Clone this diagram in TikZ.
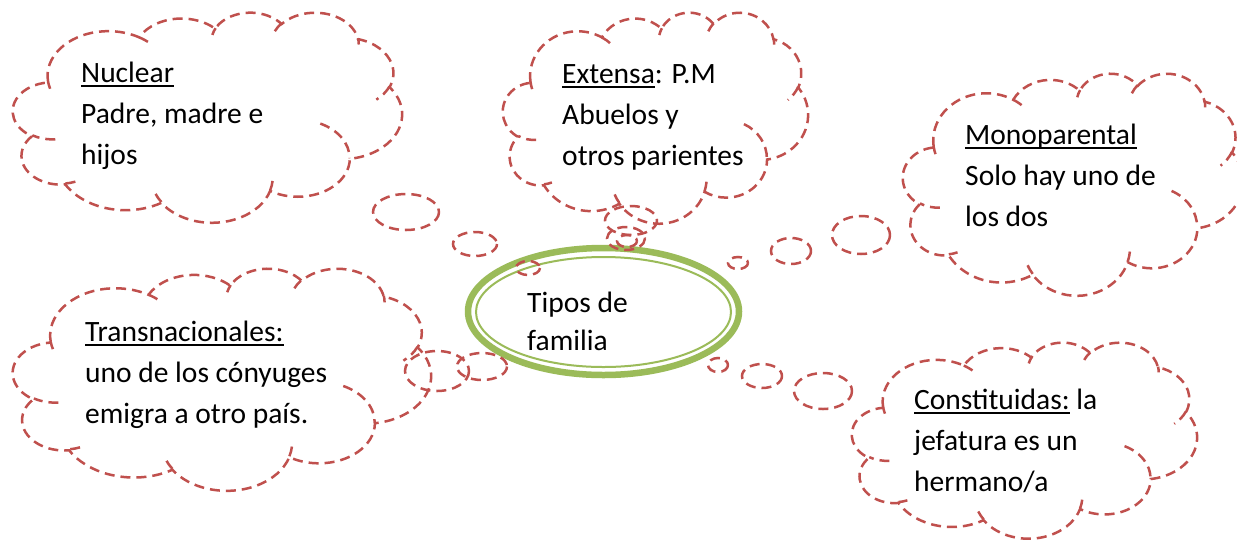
\documentclass[tikz,border=0pt]{standalone}
\usepackage{fontspec}
\setmainfont{Carlito}
\definecolor{cloudred}{RGB}{192,80,77}
\definecolor{ovalgreen}{RGB}{155,187,89}
\newcommand\myul[1]{\setbox0\hbox{#1}\rlap{\rule[-5pt]{\wd0}{1.8pt}}\box0\relax}
\newcommand\carc[4]{arc[start angle={atan2((#1)*sin(#3),(#2)*cos(#3))}, delta angle={Mod(atan2((#1)*sin(#3+#4),(#2)*cos(#3+#4))-atan2((#1)*sin(#3),(#2)*cos(#3)),360)}, x radius=#1, y radius=#2]}
\newcommand\wcloud[4]{%
\begin{scope}[shift={(#1,#2)},xscale=#3/432,yscale=#4/432]
\draw[cloudline] (39.00,143.70) \carc{67.53}{91.90}{-190.48748}{123.78053} \carc{53.33}{72.67}{-144.10238}{89.94523} \carc{43.65}{59.45}{-145.80792}{99.72302} \carc{48.57}{65.95}{-130.98607}{117.24173} \carc{53.33}{72.73}{-78.70888}{109.02692} \carc{67.75}{92.20}{-46.26725}{130.269} \carc{57.85}{78.67}{0.62502}{114.03333} \carc{67.52}{92.15}{22.4516}{115.17255} \carc{77.20}{105.43}{66.24263}{75.71102} \carc{43.60}{59.18}{-274.94208}{146.73557} \carc{43.45}{59.45}{-246.8285}{152.51885} -- cycle;
\draw[cloudline] (46.93,261.77) \carc{43.45}{59.45}{86.742}{26.4295}
 (69.28,348.99) \carc{43.60}{59.18}{73.61047}{11.44747}
 (164.78,390.90) \carc{67.52}{92.15}{137.62415}{14.0811}
 (288.27,347.51) \carc{67.52}{92.15}{6.45327}{15.99835}
 (341.29,229.54) \carc{57.85}{78.67}{-70.29235}{70.91737}
 (417.98,153.54) \carc{53.33}{72.73}{30.31803}{27.7515}
 (383.24,54.26) \carc{48.57}{65.95}{-13.74433}{14.8589}
 (290.78,39.52) \carc{48.57}{65.95}{-149.18145}{18.19537}
 (221.41,47.20) \carc{43.65}{59.45}{-163.49427}{17.68635}
 (140.00,51.92) \carc{67.53}{91.90}{-66.70695}{12.31935}
 (41.27,157.89) \carc{67.53}{91.90}{157.65435}{11.85817};
\end{scope}}
\tikzset{
  cloudline/.style={draw=cloudred, line width=2.5pt, dash pattern=on 10pt off 6pt},
  txt/.style={anchor=base west, inner sep=0pt, font=\fontsize{29.5}{41}\selectfont, text=black},
}
\begin{document}
\begin{tikzpicture}[x=1pt,y=-1pt]
\useasboundingbox (0,0) rectangle (1237,539);
\fill[white] (0,0) rectangle (1237,539);
% central oval
\draw[ovalgreen, line width=6.5pt] (603.5,311.5) ellipse [x radius=135.5, y radius=63.5];
\draw[ovalgreen, line width=2pt] (603.5,312) ellipse [x radius=127.5, y radius=55];
% clouds
\wcloud{13}{12}{389}{210}
\wcloud{503}{12}{305}{211}
\wcloud{903}{73}{340}{222}
\wcloud{13}{268}{418}{222}
\wcloud{852}{342}{345}{196}
% thought bubbles
\draw[cloudline] (406,212) ellipse [x radius=33, y radius=18];
\draw[cloudline] (475,244) ellipse [x radius=22, y radius=12];
\draw[cloudline] (528,268) ellipse [x radius=12, y radius=7];
\draw[cloudline] (631,220.5) ellipse [x radius=26, y radius=14.5];
\draw[cloudline] (626,238.5) ellipse [x radius=19, y radius=11.5];
\draw[cloudline] (627,241) ellipse [x radius=10, y radius=6];
\draw[cloudline] (738,263) ellipse [x radius=10, y radius=6];
\draw[cloudline] (791,251) ellipse [x radius=20, y radius=13];
\draw[cloudline] (861,235) ellipse [x radius=29, y radius=19];
\draw[cloudline] (718,365) ellipse [x radius=10, y radius=7];
\draw[cloudline] (762,376) ellipse [x radius=20, y radius=12];
\draw[cloudline] (823,391) ellipse [x radius=29, y radius=18];
\draw[cloudline] (437,371) ellipse [x radius=32, y radius=20];
\draw[cloudline] (482,366.5) ellipse [x radius=25, y radius=13.5];
% texts
\node[txt] (nuclear) at (81,82) {\vtop{\hbox{\myul{Nuclear}}\hbox{Padre, madre e}\hbox{hijos}}};
\node[txt] (extensa) at (562,83) {\vtop{\hbox{\myul{Extensa}: P.M}\hbox{Abuelos y}\hbox{otros parientes}}};
\node[txt] (mono) at (965,144) {\vtop{\hbox{\myul{Monoparental}}\hbox{Solo hay uno de}\hbox{los dos}}};
\node[txt] (trans) at (85,341) {\vtop{\hbox{\myul{Transnacionales:}}\hbox{uno de los cónyuges}\hbox{emigra a otro país.}}};
\node[txt] (const) at (914,409) {\vtop{\hbox{\myul{Constituidas:} la}\hbox{jefatura es un}\hbox{hermano/a}}};
\node[txt, font=\fontsize{29.5}{38}\selectfont] (tipos) at (527,312) {\vtop{\hbox{Tipos de}\hbox{familia}}};
\end{tikzpicture}
\end{document}
